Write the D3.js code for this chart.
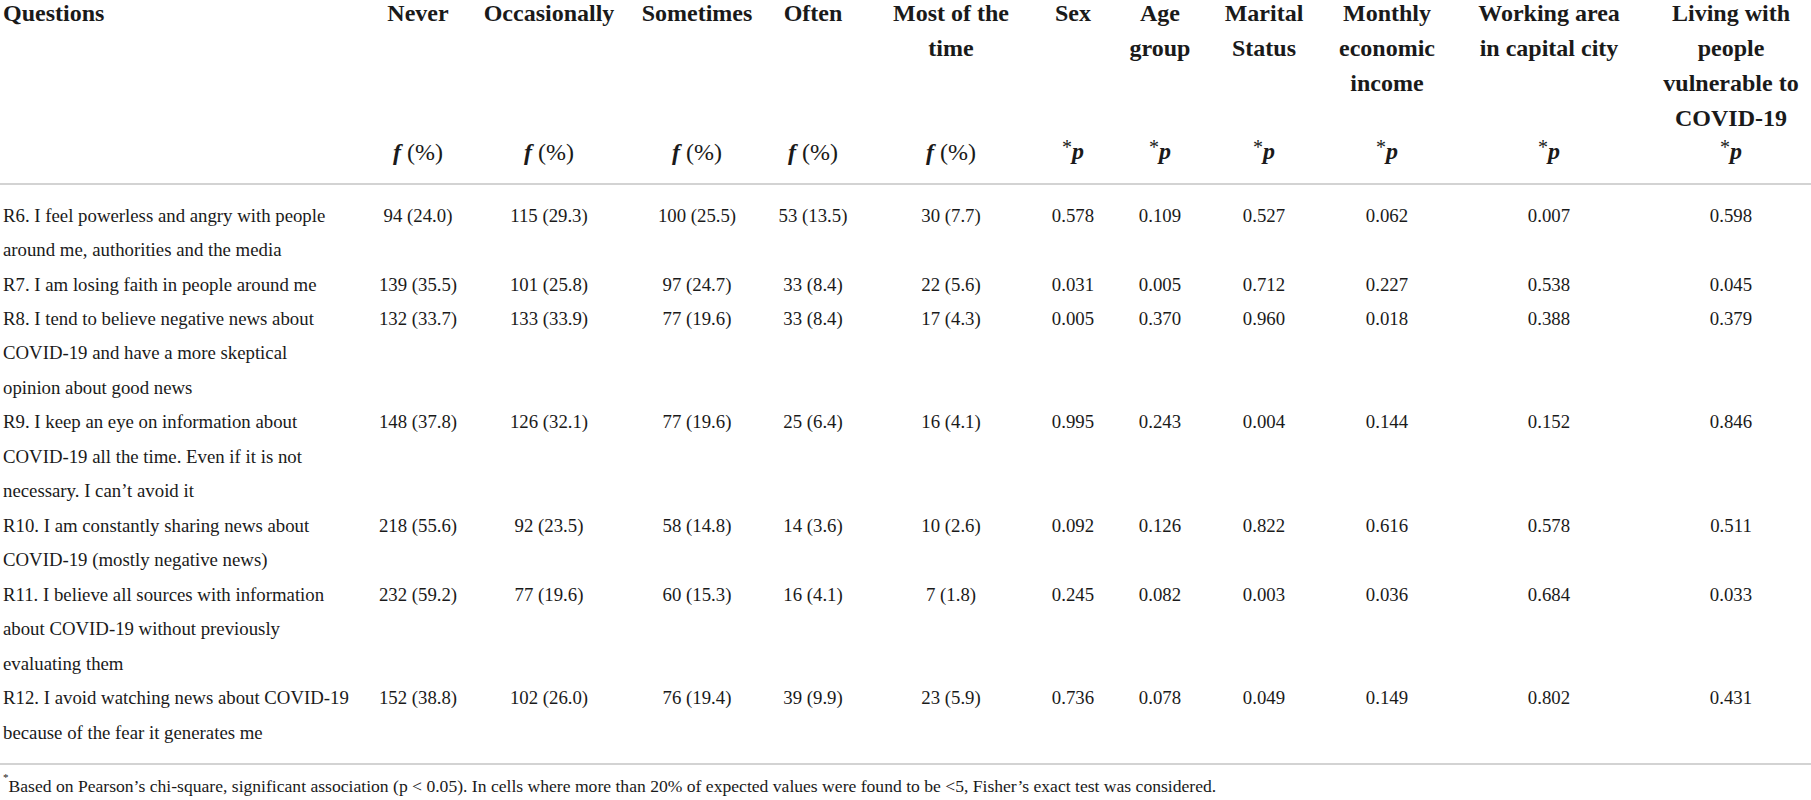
<!DOCTYPE html>
<html>
  <head>
    <meta charset="utf-8">
    <style>
    body { margin: 0; background: #fff; }
    text { font-family: "Liberation Serif", "DejaVu Serif", serif; fill: #1a1a1a; }
    .head { font-size: 24px; font-weight: bold; }
    .cell { font-size: 18.8px; }
    .note { font-size: 17.6px; }
    .rule { stroke: #d3d3d3; stroke-width: 2; }
    </style>
  </head>
  <body>

    <svg width="1811" height="800"></svg>

    <script src="https://cdn.jsdelivr.net/npm/d3@7"></script>
    <script>

      // header labels, one entry per line
      const headers = [
        ['Questions'],
        ['Never'], ['Occasionally'], ['Sometimes'], ['Often'], ['Most of the', 'time'],
        ['Sex'], ['Age', 'group'], ['Marital', 'Status'], ['Monthly', 'economic', 'income'],
        ['Working area', 'in capital city'], ['Living with', 'people', 'vulnerable to', 'COVID-19']
      ]
      const subHeaders = ['', 'f', 'f', 'f', 'f', 'f', 'p', 'p', 'p', 'p', 'p', 'p']

      const questions = [
        ['R6. I feel powerless and angry with people', 'around me, authorities and the media'],
        ['R7. I am losing faith in people around me'],
        ['R8. I tend to believe negative news about', 'COVID-19 and have a more skeptical', 'opinion about good news'],
        ['R9. I keep an eye on information about', 'COVID-19 all the time. Even if it is not', 'necessary. I can\u2019t avoid it'],
        ['R10. I am constantly sharing news about', 'COVID-19 (mostly negative news)'],
        ['R11. I believe all sources with information', 'about COVID-19 without previously', 'evaluating them'],
        ['R12. I avoid watching news about COVID-19', 'because of the fear it generates me']
      ]

      // frequencies and percentages
      const never        = [94, 139, 132, 148, 218, 232, 152]
      const neverPct     = [24.0, 35.5, 33.7, 37.8, 55.6, 59.2, 38.8]
      const occasionally = [115, 101, 133, 126, 92, 77, 102]
      const occasPct     = [29.3, 25.8, 33.9, 32.1, 23.5, 19.6, 26.0]
      const sometimes    = [100, 97, 77, 77, 58, 60, 76]
      const somePct      = [25.5, 24.7, 19.6, 19.6, 14.8, 15.3, 19.4]
      const often        = [53, 33, 33, 25, 14, 16, 39]
      const oftenPct     = [13.5, 8.4, 8.4, 6.4, 3.6, 4.1, 9.9]
      const mostTime     = [30, 22, 17, 16, 10, 7, 23]
      const mostPct      = [7.7, 5.6, 4.3, 4.1, 2.6, 1.8, 5.9]

      // p values
      const pSex       = [0.578, 0.031, 0.005, 0.995, 0.092, 0.245, 0.736]
      const pAge       = [0.109, 0.005, 0.370, 0.243, 0.126, 0.082, 0.078]
      const pMarital   = [0.527, 0.712, 0.960, 0.004, 0.822, 0.003, 0.049]
      const pIncome    = [0.062, 0.227, 0.018, 0.144, 0.616, 0.036, 0.149]
      const pWorking   = [0.007, 0.538, 0.388, 0.152, 0.578, 0.684, 0.802]
      const pVulnerable = [0.598, 0.045, 0.379, 0.846, 0.511, 0.033, 0.431]

      const footnote = 'Based on Pearson\u2019s chi-square, significant association (p < 0.05). In cells where more than 20% of expected values were found to be <5, Fisher\u2019s exact test was considered.'

      const svg = d3.select('svg')
      const W = +svg.attr('width')

      const cols = d3.range(headers.length)
      const x = d3.scaleOrdinal()
        .domain(cols)
        .range([3, 418, 549, 697, 813, 951, 1073, 1160, 1264, 1387, 1549, 1731])

      // line index -> vertical centre
      const yHead = d3.scaleLinear().domain([0, 1]).range([13, 47.7])
      const yBody = d3.scaleLinear().domain([0, 1]).range([215, 249.47])

      const anchor = c => c === 0 ? 'start' : 'middle'

      // header
      const head = svg.append('g')
      headers.forEach((lines, c) => {
        head.selectAll(null)
          .data(lines)
          .enter().append('text')
            .attr('class', 'head')
            .attr('x', x(c))
            .attr('y', (d, i) => yHead(i))
            .attr('dy', '0.35em')
            .attr('text-anchor', anchor(c))
            .text(d => d)
      })

      const sub = head.selectAll('.sub')
        .data(subHeaders.map((s, c) => ({ s, c })).filter(d => d.s))
        .enter().append('text')
          .attr('class', 'head sub')
          .attr('x', d => x(d.c))
          .attr('y', yHead(4))
          .attr('dy', '0.35em')
          .attr('text-anchor', 'middle')

      sub.filter(d => d.s === 'f').each(function () {
        const t = d3.select(this)
        t.append('tspan').attr('font-style', 'italic').text('f')
        t.append('tspan').attr('font-weight', 'normal').text(' (%)')
      })
      sub.filter(d => d.s === 'p').each(function () {
        const t = d3.select(this)
        t.append('tspan').attr('font-size', '20px').attr('font-weight', 'normal')
          .attr('dy', '0.1em').text('*')
        t.append('tspan').attr('font-style', 'italic').attr('dy', '0.2em').text('p')
      })

      // rules
      const rules = [184, 764]
      svg.selectAll('.rule')
        .data(rules)
        .enter().append('line')
          .attr('class', 'rule')
          .attr('x1', 0).attr('x2', W)
          .attr('y1', d => d).attr('y2', d => d)

      // body rows
      const startLine = []
      questions.reduce((acc, q) => { startLine.push(acc); return acc + q.length }, 0)

      const freq = (n, p) => n + ' (' + p.toFixed(1) + ')'
      const fmtP = d3.format('.3f')

      const rows = questions.map((q, i) => ({
        lines: q,
        start: startLine[i],
        cells: [
          freq(never[i], neverPct[i]),
          freq(occasionally[i], occasPct[i]),
          freq(sometimes[i], somePct[i]),
          freq(often[i], oftenPct[i]),
          freq(mostTime[i], mostPct[i]),
          fmtP(pSex[i]), fmtP(pAge[i]), fmtP(pMarital[i]),
          fmtP(pIncome[i]), fmtP(pWorking[i]), fmtP(pVulnerable[i])
        ]
      }))

      const row = svg.selectAll('.row')
        .data(rows)
        .enter().append('g')
          .attr('class', 'row')

      row.selectAll('.q')
        .data(d => d.lines.map((l, k) => ({ l, line: d.start + k })))
        .enter().append('text')
          .attr('class', 'cell q')
          .attr('x', x(0))
          .attr('y', d => yBody(d.line))
          .attr('dy', '0.35em')
          .text(d => d.l)

      row.selectAll('.v')
        .data(d => d.cells.map((v, k) => ({ v, c: k + 1, line: d.start })))
        .enter().append('text')
          .attr('class', 'cell v')
          .attr('x', d => x(d.c))
          .attr('y', d => yBody(d.line))
          .attr('dy', '0.35em')
          .attr('text-anchor', 'middle')
          .text(d => d.v)

      // footnote
      const note = svg.append('text')
        .attr('class', 'note')
        .attr('x', 3)
        .attr('y', 788)
        .attr('dy', '0.35em')
      note.append('tspan').attr('font-size', '11px').attr('dy', '-0.6em').text('*')
      note.append('tspan').attr('dy', '0.6em').text(footnote)

    </script>
  </body>
</html>
